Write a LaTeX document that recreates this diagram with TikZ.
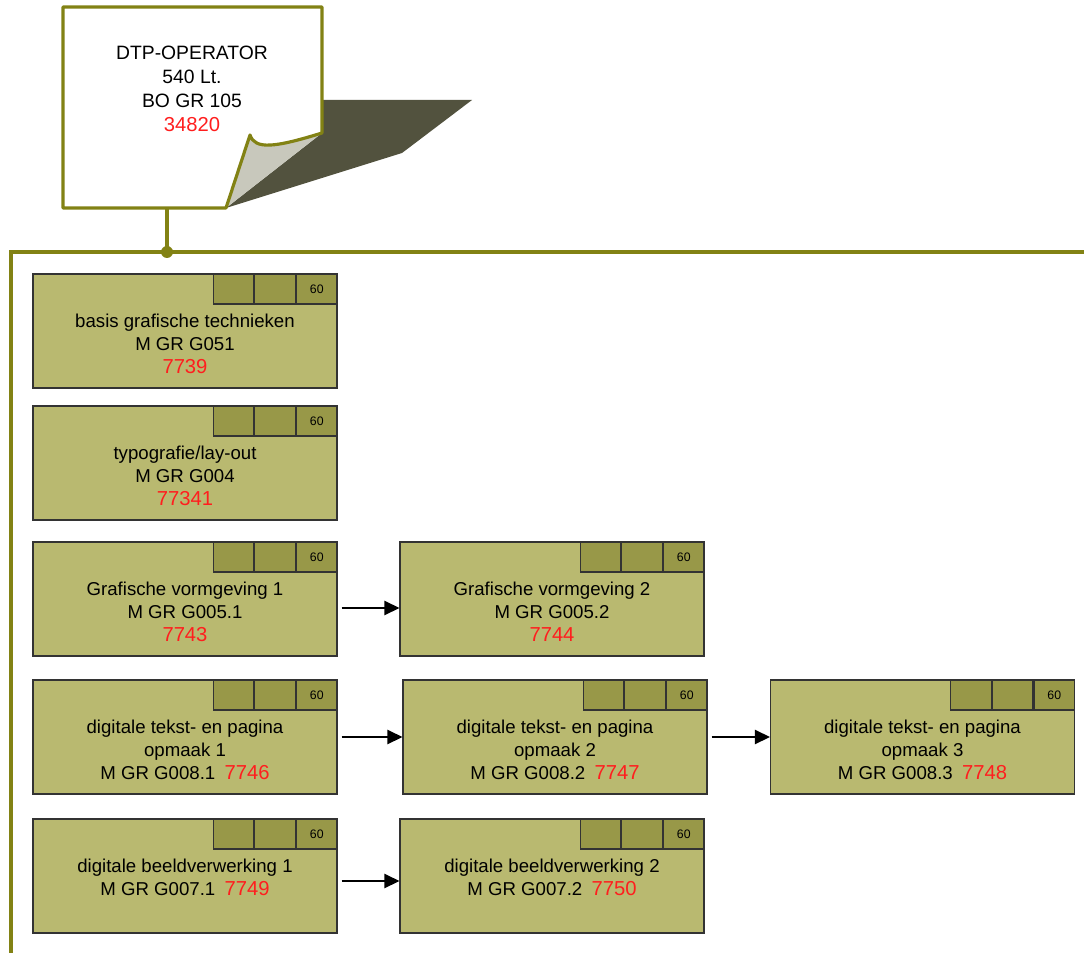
\documentclass[tikz,border=0pt]{standalone}
\usepackage{fontspec}
\setmainfont{Liberation Sans}
\usetikzlibrary{arrows.meta}

\definecolor{olijf}{RGB}{130,130,20}
\definecolor{modfill}{RGB}{185,185,112}
\definecolor{cellfill}{RGB}{152,152,72}
\definecolor{schaduw}{RGB}{82,82,62}
\definecolor{flap}{RGB}{200,200,188}
\definecolor{rood}{RGB}{255,30,30}

\newcommand{\nr}[1]{{\fontsize{11.5}{13}\selectfont\color{rood}#1}}
% three credit cells in the top right corner of a module
\newcommand{\cells}[1]{%
\node[cell,anchor=north east] (#1c) at (#1.north east) {60};
\node[cell,anchor=north east] (#1b) at (#1c.north west) {};
\node[cell,anchor=north east] (#1a) at (#1b.north west) {};}

\tikzset{
  module/.style={draw=black!80,fill=modfill,line width=0.6pt,minimum width=6.08cm,minimum height=2.28cm,inner sep=0pt},
  cell/.style={draw=black!80,fill=cellfill,line width=0.6pt,minimum width=0.81cm,minimum height=0.6cm,inner sep=0pt,font=\fontsize{7}{8}\selectfont},
  modtext/.style={align=center,inner sep=0pt,anchor=north,font=\fontsize{10.6}{13}\selectfont},
  arrow/.style={-{Triangle[length=0.3cm,width=0.28cm]},line width=1.3pt,shorten <=0.08cm},
  olive/.style={draw=olijf,line width=1.8pt}
}

\begin{document}
\begin{tikzpicture}
\useasboundingbox (0,0) rectangle (21.68,-19.06);

% top function box with curled corner
\fill[schaduw] (6.44,-2.00) -- (9.44,-2.00) -- (8.04,-3.06) -- (4.52,-4.16) -- (6.44,-2.66) -- cycle;
\fill[white] (4.52,-4.16) -- (1.26,-4.16) -- (1.26,-0.14) -- (6.44,-0.14) -- (6.44,-2.66) .. controls (5.5,-2.95) and (5.1,-3.0) .. (5.00,-2.70) -- cycle;
\fill[flap] (4.52,-4.16) -- (5.00,-2.70) .. controls (5.1,-3.0) and (5.5,-2.95) .. (6.44,-2.66) -- cycle;
\draw[olive,line join=round] (4.52,-4.16) -- (1.26,-4.16) -- (1.26,-0.14) -- (6.44,-0.14) -- (6.44,-2.66) .. controls (5.5,-2.95) and (5.1,-3.0) .. (5.00,-2.70) -- cycle;
\node[inner sep=0pt,minimum width=5.18cm,minimum height=4.02cm] (0) at (3.85,-2.15) {};
\node[align=center,font=\fontsize{11}{13.6}\selectfont] (0t) at (3.84,-1.78) {DTP-OPERATOR\\540 Lt.\\BO GR 105\\{\fontsize{11.5}{13.6}\selectfont\color{rood}34820}};

% bus
\coordinate (bus) at (3.34,-5.04);
\draw[olive] (bus |- 0.south) -- (bus);
\draw[olive,line width=2.2pt] (21.68,-5.04) -- (0.22,-5.04) -- (0.22,-19.06);
\fill[olijf] (bus) circle (0.12);

% modules
\node[module] (1) at (3.70,-6.62) {};
\node[module] (2) at (3.70,-9.26) {};
\node[module] (3) at (3.70,-11.98) {};
\node[module] (4) at (11.04,-11.98) {};
\node[module] (5) at (3.70,-14.74) {};
\node[module] (6) at (11.10,-14.74) {};
\node[module] (7) at (18.45,-14.74) {};
\node[module] (8) at (3.70,-17.52) {};
\node[module] (9) at (11.04,-17.52) {};

\cells{1}
\cells{2}
\cells{3}
\cells{4}
\cells{5}
\cells{6}
\cells{7}
\cells{8}
\cells{9}

\node[modtext] (1t) at ([yshift=-0.8cm]1.north) {basis grafische technieken\\M GR G051\\\nr{7739}};
\node[modtext] (2t) at ([yshift=-0.8cm]2.north) {typografie/lay-out\\M GR G004\\\nr{77341}};
\node[modtext] (3t) at ([yshift=-0.8cm]3.north) {Grafische vormgeving 1\\M GR G005.1\\\nr{7743}};
\node[modtext] (4t) at ([yshift=-0.8cm]4.north) {Grafische vormgeving 2\\M GR G005.2\\\nr{7744}};
\node[modtext] (5t) at ([yshift=-0.8cm]5.north) {digitale tekst- en pagina\\opmaak 1\\M GR G008.1\enspace\nr{7746}};
\node[modtext] (6t) at ([yshift=-0.8cm]6.north) {digitale tekst- en pagina\\opmaak 2\\M GR G008.2\enspace\nr{7747}};
\node[modtext] (7t) at ([yshift=-0.8cm]7.north) {digitale tekst- en pagina\\opmaak 3\\M GR G008.3\enspace\nr{7748}};
\node[modtext] (8t) at ([yshift=-0.8cm]8.north) {digitale beeldverwerking 1\\M GR G007.1\enspace\nr{7749}};
\node[modtext] (9t) at ([yshift=-0.8cm]9.north) {digitale beeldverwerking 2\\M GR G007.2\enspace\nr{7750}};

% follow-up arrows
\draw[arrow] ([yshift=-0.18cm]3.east) -- ([yshift=-0.18cm]4.west);
\draw[arrow] (5.east) -- (6.west);
\draw[arrow] (6.east) -- (7.west);
\draw[arrow] ([yshift=-0.1cm]8.east) -- ([yshift=-0.1cm]9.west);

\end{tikzpicture}
\end{document}
